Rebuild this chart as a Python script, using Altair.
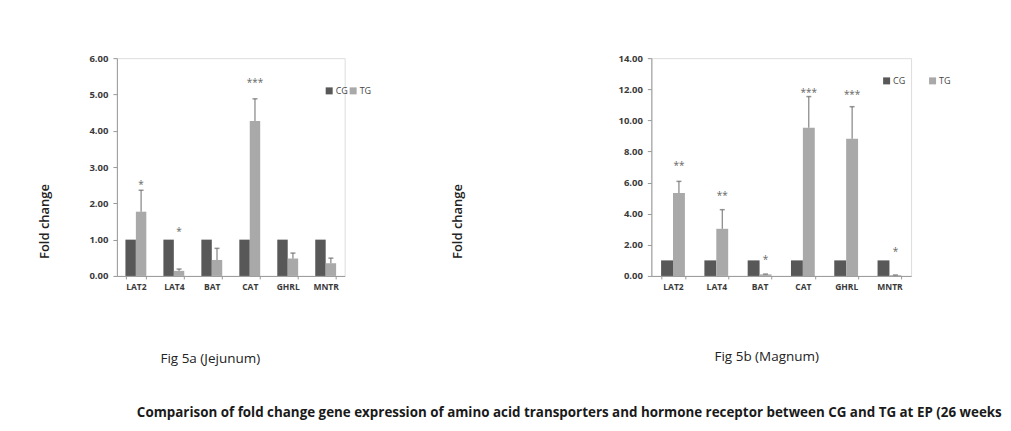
import altair as alt
import pandas as pd

genes = ["LAT2", "LAT4", "BAT", "CAT", "GHRL", "MNTR"]
groups = ["CG", "TG"]

jej_cg = [1.0, 1.0, 1.0, 1.0, 1.0, 1.0]
jej_tg = [1.77, 0.14, 0.44, 4.27, 0.48, 0.35]
jej_err = [0.59, 0.05, 0.32, 0.61, 0.15, 0.14]
jej_sig = ["*", "*", "", "***", "", ""]
jej_sig_y = [2.6, 1.3, 0.0, 5.4, 0.0, 0.0]

mag_cg = [1.0, 1.0, 1.0, 1.0, 1.0, 1.0]
mag_tg = [5.33, 3.03, 0.10, 9.53, 8.82, 0.05]
mag_err = [0.75, 1.23, 0.02, 2.00, 2.06, 0.01]
mag_sig = ["**", "**", "*", "***", "***", "*"]
mag_sig_y = [7.25, 5.35, 1.2, 11.95, 11.85, 1.7]

jej_ticks = [0, 1, 2, 3, 4, 5, 6]
mag_ticks = [0, 2, 4, 6, 8, 10, 12, 14]

caption_a = "Fig 5a (Jejunum)"
caption_b = "Fig 5b (Magnum)"
main_title = ("Comparison of fold change gene expression of amino acid transporters "
              "and hormone receptor between CG and TG at EP (26 weeks")

COLORS = ["#585858", "#a9a9a9"]
FONT = "Open Sans"


def panel(cg, tg, err, sig, sig_y, ticks, width, height, caption, cap_x, cap_y,
          ytitle_x, leg_x, leg_y, leg_pad, extra=None):
    bars = pd.DataFrame({
        "gene": genes * 2,
        "group": ["CG"] * len(genes) + ["TG"] * len(genes),
        "value": cg + tg,
    })
    errs = pd.DataFrame({
        "gene": genes, "group": ["TG"] * len(genes),
        "lo": tg, "hi": [a + b for a, b in zip(tg, err)],
    })
    sigs = pd.DataFrame({"gene": genes, "group": ["TG"] * len(genes),
                         "y": sig_y, "label": sig})
    sigs = sigs[sigs["label"] != ""]

    xaxis = alt.Axis(title=caption, titleX=cap_x, titleY=cap_y,
                     titleAnchor="middle", titleAlign="center",
                     titleBaseline="middle", titleFontSize=13.5,
                     titleFontWeight="normal", titleColor="#222",
                     labelAngle=0, labelFontSize=8.5,
                     labelFontWeight="bold", labelColor="#3a3a3a",
                     labelPadding=4, tickBand="extent", tickSize=3,
                     tickColor="#999", domainColor="#999")
    xscale = alt.Scale(paddingInner=0.45, paddingOuter=0.225)
    x = alt.X("gene:N", sort=genes, scale=xscale, axis=xaxis)
    xo = alt.XOffset("group:N", sort=groups,
                     scale=alt.Scale(paddingInner=0, paddingOuter=0))
    yscale = alt.Scale(domain=[ticks[0], ticks[-1]], nice=False)
    yaxis = alt.Axis(values=ticks, format=".2f", grid=False,
                     labelOverlap=False, labelFontSize=9.5,
                     labelFontWeight="bold", labelColor="#3a3a3a",
                     labelPadding=5, tickSize=4, tickColor="#999",
                     domainColor="#999",
                     title="Fold change", titleX=ytitle_x, titleY=163,
                     titleAngle=270, titleAlign="center",
                     titleBaseline="middle", titleFontSize=13,
                     titleFontWeight=600, titleColor="#222")

    bar = alt.Chart(bars).mark_bar().encode(
        x=x, xOffset=xo,
        y=alt.Y("value:Q", scale=yscale, axis=yaxis),
        color=alt.Color("group:N", sort=groups,
                        scale=alt.Scale(domain=groups, range=COLORS),
                        legend=alt.Legend(orient="none", legendX=leg_x,
                                          legendY=leg_y, direction="horizontal",
                                          title=None, symbolType="square",
                                          symbolSize=49, symbolStrokeWidth=0,
                                          labelFontSize=9, labelColor="#444",
                                          labelOffset=2, columnPadding=leg_pad)),
    )
    rule = alt.Chart(errs).mark_rule(color="#6a6a6a", strokeWidth=1).encode(
        x=x, xOffset=xo,
        y=alt.Y("lo:Q", scale=yscale, axis=yaxis), y2="hi:Q")
    cap = alt.Chart(errs).mark_tick(color="#6a6a6a", thickness=1.5, size=5).encode(
        x=x, xOffset=xo,
        y=alt.Y("hi:Q", scale=yscale, axis=yaxis))
    stars = alt.Chart(sigs).mark_text(fontSize=10, fontWeight="normal",
                                      color="#666", baseline="middle", dy=3).encode(
        x=x, xOffset=xo,
        y=alt.Y("y:Q", scale=yscale, axis=yaxis), text="label:N")
    layers = [bar, rule, cap, stars]
    if extra is not None:
        layers.append(extra)
    return alt.layer(*layers).properties(width=width, height=height)


title_df = pd.DataFrame({"t": [main_title]})
title_layer = alt.Chart(title_df).mark_text(
    align="left", baseline="middle", fontSize=13.4, fontWeight="bold",
    color="#1a1a1a", limit=866, ellipsis=" ").encode(
    x=alt.value(20), y=alt.value(355), text="t:N")

left = panel(jej_cg, jej_tg, jej_err, jej_sig, jej_sig_y, jej_ticks, 228, 218,
             caption_a, 93, 83, -72, 208, 28, 0, extra=title_layer)
right = panel(mag_cg, mag_tg, mag_err, mag_sig, mag_sig_y, mag_ticks, 260, 218,
              caption_b, 115, 81, -194, 231, 18, 22)

chart = alt.hconcat(left, right, spacing=307, bounds="flush").resolve_scale(
    color="independent", y="independent", x="independent", xOffset="independent"
).resolve_legend(color="independent").properties(
    padding={"left": 30, "top": 44, "right": 0, "bottom": 0},
    background="white",
).configure_view(stroke=None).configure(font=FONT)

chart.save("out.html", embed_options={"renderer": "svg", "actions": False})
